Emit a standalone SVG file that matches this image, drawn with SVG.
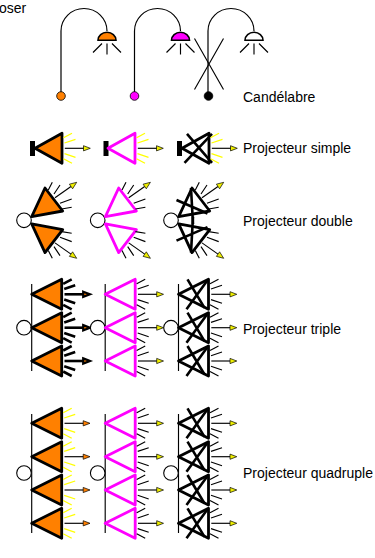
<svg xmlns="http://www.w3.org/2000/svg" width="375" height="558" viewBox="0 0 375 558">
<style>
text{font-family:"Liberation Sans",Arial,sans-serif;font-size:14px;fill:#000}
.or{fill:#ff8000;stroke:#000}
.ma{fill:#fff;stroke:#ff00ff}
.bk{fill:#fff;stroke:#000}
.t{stroke-width:2.8;stroke-linejoin:round}
.ln{fill:none;stroke:#000;stroke-width:1.2}
.y{stroke:#ffff00;stroke-width:1.3;fill:none}
.n{stroke:#000;stroke-width:1.15;fill:none}
.h{stroke:#000;stroke-width:2.6;fill:none}
.x{stroke:#000;stroke-width:2.6;fill:none}
.c{fill:#fff;stroke:#000;stroke-width:1.1}
.hy{fill:#f0f000;stroke:#000;stroke-width:.7}
.ho{fill:#ff8000;stroke:#000;stroke-width:.7}
.hb{fill:#ff8000;stroke:#000;stroke-width:2.2}
</style>
<defs>
<path id="tri" d="M0 0L30 -15V15Z"/>
<path id="tri27" d="M0 0L27 -15V15Z"/>
<path id="rays" d="M1.5 -10.5L10 -15M2.5 -5.3L13.5 -9M2.5 5.3L13.5 9M1.5 10.5L10 15"/>
<path id="stem" d="M2.8 0H22"/>
<path id="head" d="M21.5 -2.6L28.3 0L21.5 2.6Z"/>
<path id="xs" d="M-3 -14.5L22 14.5M-5.5 14.5L22 -14.5"/>
<path id="xt" d="M9 -15L26 13.5M8 15L29 -14"/>
<path id="tt" d="M31.7 216.7L45 188L62.7 211Z"/>
<path id="rd" d="M48.3 190L52.3 182.3M54 194L60 185M60 203.3L71.7 199M61.7 209L71.7 207.3"/>
<path id="sd" d="M55 197.7L71 186.5"/>
<path id="hd" d="M76.7 182.3L72.6 188.8L69.4 184.2Z"/>
<path id="xd" d="M29.5 200L60.5 213.5M44 188L46 224"/>
<g id="lamp"><path d="M-9 8.2A9 8 0 0 1 9 8.2Z" stroke-width="1.6" stroke="#000"/><path class="n" d="M0 11.5V22.5M-5 11.5L-14 20.5M5 11.5L14 20.5"/></g>
<path id="arc" d="M61 93V31A23 22.5 0 0 1 107 31"/>
<g id="ti1"><use href="#tri" class="or t"/><use href="#rays" x="30" class="h"/><use href="#stem" x="30" class="h"/><use href="#head" x="30" class="hb"/></g>
<g id="ti2"><use href="#tri" class="ma t"/><use href="#rays" x="30" class="n"/><use href="#stem" x="30" class="n"/><use href="#head" x="30" class="hy"/></g>
<g id="ti3"><use href="#tri" class="bk t"/><use href="#xt" class="x"/><use href="#rays" x="30" class="n"/><use href="#stem" x="30" class="n"/><use href="#head" x="30" class="hy"/></g>
<g id="q1"><use href="#tri" class="or t"/><use href="#rays" x="30" class="y"/><use href="#stem" x="30" class="n"/><use href="#head" x="30" class="ho"/></g>
</defs>

<g id="candelabre">
<g id="cand-1"><use href="#arc" class="ln"/><circle cx="61" cy="96" r="4.3" fill="#ff8000" stroke="#000" stroke-width=".8"/><use href="#lamp" x="107" y="32" fill="#ff8000"/></g>
<g id="cand-2"><use href="#arc" x="73.5" class="ln"/><circle cx="134.5" cy="96" r="4.3" fill="#ff00ff" stroke="#000" stroke-width=".8"/><use href="#lamp" x="180.5" y="32" fill="#ff00ff"/></g>
<g id="cand-3"><use href="#arc" x="147" class="ln"/><circle cx="208.5" cy="96" r="4.3" fill="#000" stroke="#000" stroke-width=".8"/><use href="#lamp" x="254" y="32" fill="#fff"/><path class="n" d="M194.5 38.5L223.5 89.5M223.5 38.5L194.5 89.5"/></g>
</g>

<g id="simple">
<g id="simple-1"><rect x="30" y="141" width="5" height="15" fill="#000"/><use href="#tri27" x="35" y="148.3" class="or t"/><use href="#rays" x="62" y="148.3" class="y"/><use href="#stem" x="62" y="148.3" class="n"/><use href="#head" x="62" y="148.3" class="hy"/></g>
<g id="simple-2"><rect x="103.5" y="141" width="5" height="15" fill="#000"/><use href="#tri27" x="108" y="148.3" class="ma t"/><use href="#rays" x="135" y="148.3" class="y"/><use href="#stem" x="135" y="148.3" class="n"/><use href="#head" x="135" y="148.3" class="hy"/></g>
<g id="simple-3"><rect x="177" y="141" width="5" height="15" fill="#000"/><use href="#tri27" x="182" y="148.3" class="bk t"/><use href="#xs" x="190" y="148.3" class="x"/><use href="#rays" x="209" y="148.3" class="y"/><use href="#stem" x="209" y="148.3" class="n"/><use href="#head" x="209" y="148.3" class="hy"/></g>
</g>

<g id="double">
<g id="double-1"><circle class="c" cx="24" cy="220.3" r="7.3"/>
<g><use href="#tt" class="or t"/><use href="#rd" class="n"/><use href="#sd" class="n"/><use href="#hd" class="hy"/></g>
<g transform="matrix(1 0 0 -1 0 440.6)"><use href="#tt" class="or t"/><use href="#rd" class="n"/><use href="#sd" class="n"/><use href="#hd" class="hy"/></g></g>
<g id="double-2" transform="translate(73.7 0)"><circle class="c" cx="24" cy="220.3" r="7.3"/>
<g><use href="#tt" class="ma t"/><use href="#rd" class="n"/><use href="#sd" class="n"/><use href="#hd" class="hy"/></g>
<g transform="matrix(1 0 0 -1 0 440.6)"><use href="#tt" class="ma t"/><use href="#rd" class="n"/><use href="#sd" class="n"/><use href="#hd" class="hy"/></g></g>
<g id="double-3" transform="translate(147 0)"><circle class="c" cx="24" cy="220.3" r="7.3"/>
<g><use href="#tt" class="bk t"/><use href="#xd" class="x"/><use href="#rd" class="n"/><use href="#sd" class="n"/><use href="#hd" class="hy"/></g>
<g transform="matrix(1 0 0 -1 0 440.6)"><use href="#tt" class="bk t"/><use href="#xd" class="x"/><use href="#rd" class="n"/><use href="#sd" class="n"/><use href="#hd" class="hy"/></g></g>
</g>

<g id="triple">
<g id="triple-1"><path class="n" d="M31.7 284V371"/><circle class="c" cx="24" cy="327.7" r="7.3"/><use href="#ti1" x="31.7" y="294.3"/><use href="#ti1" x="31.7" y="327.7"/><use href="#ti1" x="31.7" y="361"/></g>
<g id="triple-2"><path class="n" d="M105.2 284V371"/><circle class="c" cx="97.7" cy="327.7" r="7.3"/><use href="#ti2" x="105.2" y="294.3"/><use href="#ti2" x="105.2" y="327.7"/><use href="#ti2" x="105.2" y="361"/></g>
<g id="triple-3"><path class="n" d="M178.5 284V371"/><circle class="c" cx="171" cy="327.7" r="7.3"/><use href="#ti3" x="178.5" y="294.3"/><use href="#ti3" x="178.5" y="327.7"/><use href="#ti3" x="178.5" y="361"/></g>
</g>

<g id="quadruple">
<g id="quadruple-1"><path class="n" d="M31.7 414V533"/><circle class="c" cx="24" cy="473" r="7.3"/><use href="#q1" x="31.7" y="423.3"/><use href="#q1" x="31.7" y="456.7"/><use href="#q1" x="31.7" y="490"/><use href="#q1" x="31.7" y="523.3"/></g>
<g id="quadruple-2"><path class="n" d="M105.2 414V533"/><circle class="c" cx="97.7" cy="473" r="7.3"/><use href="#ti2" x="105.2" y="423.3"/><use href="#ti2" x="105.2" y="456.7"/><use href="#ti2" x="105.2" y="490"/><use href="#ti2" x="105.2" y="523.3"/></g>
<g id="quadruple-3"><path class="n" d="M178.5 414V533"/><circle class="c" cx="171" cy="473" r="7.3"/><use href="#ti3" x="178.5" y="423.3"/><use href="#ti3" x="178.5" y="456.7"/><use href="#ti3" x="178.5" y="490"/><use href="#ti3" x="178.5" y="523.3"/></g>
</g>

<g id="labels">
<text x="-1" y="13">oser</text>
<text x="243" y="102">Candélabre</text>
<text x="243" y="153">Projecteur simple</text>
<text x="243" y="226">Projecteur double</text>
<text x="243" y="334">Projecteur triple</text>
<text x="243" y="478">Projecteur quadruple</text>
</g>
</svg>
